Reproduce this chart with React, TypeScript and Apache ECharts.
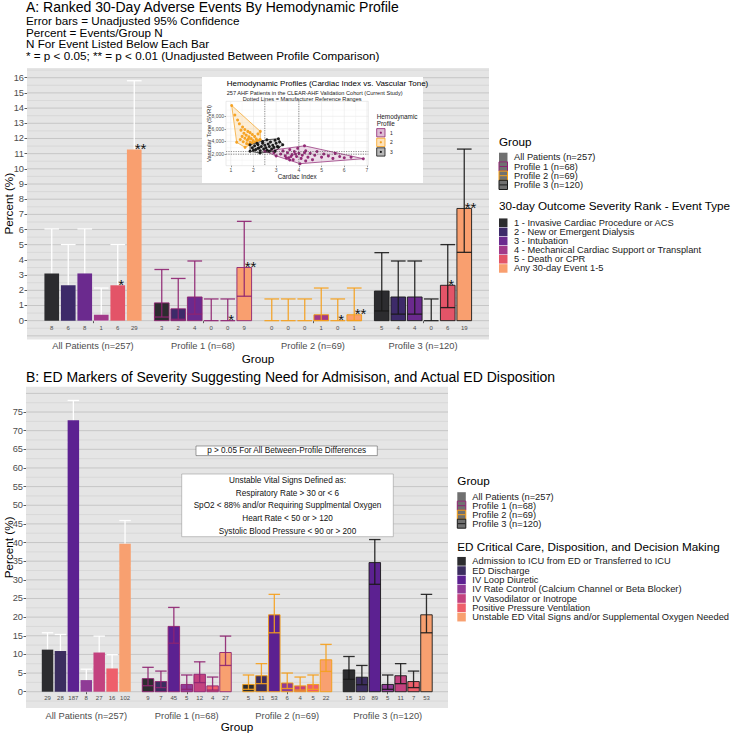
import React, { useEffect, useRef } from "react";
import * as echarts from "echarts";

const FONT = "'Liberation Sans', Arial, Helvetica, sans-serif";

// ---------- Panel A data ----------
const topGroups = ["All Patients (n=257)", "Profile 1 (n=68)", "Profile 2 (n=69)", "Profile 3 (n=120)"];
const topEvents = [
  "1 - Invasive Cardiac Procedure or ACS",
  "2 - New or Emergent Dialysis",
  "3 - Intubation",
  "4 - Mechanical Cardiac Support or Transplant",
  "5 - Death or CPR",
  "Any 30-day Event 1-5",
];
const topCounts = [
  [8, 6, 8, 1, 6, 29],
  [3, 2, 4, 0, 0, 9],
  [0, 0, 0, 1, 0, 1],
  [5, 4, 4, 0, 6, 19],
];
const topPercent = [
  [3.11, 2.33, 3.11, 0.39, 2.33, 11.28],
  [1.17, 0.78, 1.56, 0, 0, 3.5],
  [0, 0, 0, 0.39, 0, 0.39],
  [1.95, 1.56, 1.56, 0, 2.33, 7.39],
];
const topLower = [
  [1.35, 0.86, 1.35, 0.01, 0.86, 7.68],
  [0.24, 0.09, 0.43, 0, 0, 1.61],
  [0, 0, 0, 0.01, 0, 0.01],
  [0.64, 0.43, 0.43, 0, 0.86, 4.5],
];
const topUpper = [
  [6.04, 5.01, 6.04, 2.15, 5.01, 15.8],
  [3.37, 2.78, 3.93, 1.43, 1.43, 6.54],
  [1.43, 1.43, 1.43, 2.15, 1.43, 2.15],
  [4.48, 3.93, 3.93, 1.43, 5.01, 11.3],
];
const topStars = [
  ["", "", "", "", "*", "**"],
  ["", "", "", "", "*", "**"],
  ["", "", "", "", "*", "**"],
  ["", "", "", "", "*", "**"],
];
const topYTicks = [0, 1, 2, 3, 4, 5, 6, 7, 8, 9, 10, 11, 12, 13, 14, 15, 16];

// ---------- Panel B data ----------
const bottomGroups = topGroups;
const bottomEvents = [
  "Admission to ICU from ED or Transferred to ICU",
  "ED Discharge",
  "IV Loop Diuretic",
  "IV Rate Control (Calcium Channel or Beta Blocker)",
  "IV Vasodilator or Inotrope",
  "Positive Pressure Ventilation",
  "Unstable ED Vital Signs and/or Supplemental Oxygen Needed",
];
const bottomCounts = [
  [29, 28, 187, 8, 27, 16, 102],
  [9, 7, 45, 5, 12, 4, 27],
  [5, 11, 53, 6, 4, 5, 22],
  [15, 10, 89, 5, 11, 7, 53],
];
const bottomPercent = [
  [11.28, 10.89, 72.76, 3.11, 10.51, 6.23, 39.69],
  [3.5, 2.72, 17.51, 1.95, 4.67, 1.56, 10.51],
  [1.95, 4.28, 20.62, 2.33, 1.56, 1.95, 8.56],
  [5.84, 3.89, 34.63, 1.95, 4.28, 2.72, 20.62],
];
const bottomLower = [
  [7.68, 7.37, 66.9, 1.35, 7.04, 3.61, 33.7],
  [1.61, 1.1, 13.0, 0.64, 2.44, 0.43, 7.04],
  [0.64, 2.16, 15.8, 0.86, 0.43, 0.64, 5.44],
  [3.31, 1.88, 28.8, 0.64, 2.16, 1.1, 15.8],
];
const bottomUpper = [
  [15.8, 15.35, 78.1, 6.04, 14.91, 9.92, 45.9],
  [6.54, 5.53, 22.6, 4.48, 8.01, 3.93, 14.91],
  [4.48, 7.53, 26.1, 5.01, 3.93, 4.48, 12.69],
  [9.44, 7.04, 40.8, 4.48, 7.53, 5.53, 26.1],
];
const bottomYTicks = [0, 5, 10, 15, 20, 25, 30, 35, 40, 45, 50, 55, 60, 65, 70, 75];
const unstableLines = [
  "Unstable Vital Signs Defined as:",
  "Respiratory Rate > 30 or < 6",
  "SpO2 < 88% and/or Requiring Supplmental Oxygen",
  "Heart Rate < 50 or > 120",
  "Systolic Blood Pressure < 90 or > 200",
];

// ---------- Inset data (Cardiac Index, SVRI) ----------
const insetProfiles = ["1", "2", "3"];
const insetP1 = [
  [2.5, 2450], [4.25, 3300], [6.84, 1250], [4.05, 460], [3.0, 1700], [2.9, 2200], [3.2, 2000],
  [3.3, 2500], [3.4, 1700], [3.5, 2200], [3.55, 1400], [3.6, 2700], [3.7, 1900], [3.75, 1100],
  [3.8, 2400], [3.9, 1600], [3.95, 2900], [4.0, 2100], [4.1, 1300], [4.15, 1800], [4.3, 2500],
  [4.4, 1500], [4.5, 2100], [4.6, 1100], [4.7, 1800], [4.8, 2400], [5.0, 1500], [5.1, 2000],
  [5.3, 1700], [5.5, 1300], [5.6, 2100], [5.8, 1600], [6.0, 1400], [6.3, 1500], [3.6, 1050],
  [4.3, 900], [3.45, 1350], [3.85, 2000], [4.25, 2200], [3.65, 1600],
];
const insetP2 = [
  [1.04, 9730], [1.18, 8200], [1.3, 7400], [1.38, 6800], [1.52, 6300], [1.45, 5800], [1.62, 5900],
  [1.75, 5600], [1.58, 5300], [1.85, 5400], [1.68, 5000], [1.95, 5100], [1.5, 4800], [1.8, 4750],
  [2.05, 4800], [2.2, 5200], [1.62, 4500], [1.9, 4450], [2.12, 4400], [1.42, 4300], [1.72, 4200],
  [1.98, 4150], [2.28, 4300], [1.26, 3860], [1.55, 3950], [1.85, 3900], [2.08, 3950], [1.7, 3650],
  [1.95, 3800], [2.18, 4150], [1.63, 3060], [1.8, 3500], [2.3, 5600], [2.3, 4270], [1.78, 4400],
];
const insetP3 = [
  [1.85, 3480], [2.59, 4270], [3.1, 4430], [3.29, 3480], [2.95, 2430], [2.29, 2160], [1.85, 2430],
  [1.95, 3000], [2.05, 3300], [2.1, 2700], [2.2, 3500], [2.25, 3000], [2.3, 2500], [2.35, 3200],
  [2.4, 3700], [2.45, 2800], [2.5, 3400], [2.55, 3000], [2.6, 2600], [2.65, 3600], [2.7, 3200],
  [2.75, 3900], [2.8, 2800], [2.85, 3400], [2.9, 3050], [3.0, 3700], [3.05, 3200], [3.15, 3900],
  [2.0, 2600], [2.15, 3700], [2.4, 4000], [2.95, 4200], [2.7, 2450], [3.1, 3100], [2.2, 2900],
];
const hullP1 = [[2.5, 2450], [4.25, 3300], [6.84, 1250], [4.05, 460], [3.0, 1700]];
const hullP2 = [[1.04, 9730], [2.3, 5600], [2.3, 4270], [1.63, 3060], [1.26, 3860]];
const hullP3 = [[1.85, 3480], [2.59, 4270], [3.1, 4430], [3.29, 3480], [2.95, 2430], [2.29, 2160], [1.85, 2430]];
const refCI = [2.5, 4.0];
const refSVRI = [1970, 2390];
const insetXTicks = [1, 2, 3, 4, 5, 6, 7];
const insetYTicks = [2000, 4000, 6000, 8000];

// ---------- styles ----------
const topColors = ["#2c2c2f", "#3d2a69", "#6b2a8e", "#a2398a", "#e35468", "#f99f6f"];
const bottomColors = ["#2c2c2f", "#3b2d5f", "#5c2191", "#8f3b96", "#c3427f", "#ee5f6b", "#f8a070"];
const groupStroke = ["none", "#8e2371", "#f39c12", "#1a1a1a"];
const groupErr = ["#ffffff", "#8e2371", "#f5a01d", "#1a1a1a"];
const profileColors = ["#8e2371", "#f5a01d", "#111111"];
const profileFill = ["rgba(142,35,113,0.15)", "rgba(245,160,29,0.18)", "rgba(17,17,17,0.15)"];
const profileKeyFill = ["rgba(142,35,113,0.3)", "rgba(245,160,29,0.3)", "rgba(17,17,17,0.3)"];

function makeBarSeries(
  j: number, k: number, name: string, colors: string[], counts: number[][], pct: number[][],
  lo: number[][], hi: number[][], stars: string[][] | null, axisIdx: number, nOffset: number
) {
  const data = pct.map((row, gi) => [gi + 1, row[j], lo[gi][j], hi[gi][j]]);
  return {
    type: "custom",
    name,
    xAxisIndex: axisIdx,
    yAxisIndex: axisIdx,
    z: 3,
    silent: true,
    encode: { x: 0, y: 1 },
    data,
    renderItem: (params: any, api: any) => {
      const gi = params.dataIndex;
      const g = api.value(0), v = api.value(1), l = api.value(2), h = api.value(3);
      const xc = g + (j - (k - 1) / 2) * (0.9 / k);
      const base = api.coord([xc, 0]);
      const top = api.coord([xc, v]);
      const pl = api.coord([xc, l]);
      const ph = api.coord([xc, h]);
      const bw = api.size([0.8 / k, 0])[0];
      const cx = base[0];
      const x0 = cx - bw / 2, x1 = cx + bw / 2;
      const es = { stroke: groupErr[gi], lineWidth: 1.3, opacity: gi === 0 ? 1 : 0.9 };
      const err = [
        { type: "line", shape: { x1: cx, y1: pl[1], x2: cx, y2: ph[1] }, style: es },
        { type: "line", shape: { x1: x0, y1: ph[1], x2: x1, y2: ph[1] }, style: es },
        { type: "line", shape: { x1: x0, y1: pl[1], x2: x1, y2: pl[1] }, style: es },
      ];
      const bars: any[] = v > 0 ? [{
        type: "rect",
        shape: { x: x0, y: top[1], width: bw, height: base[1] - top[1] },
        style: { fill: colors[j], stroke: groupStroke[gi], lineWidth: gi === 0 ? 0 : 0.9 },
      }] : [];
      const texts: any[] = [{
        type: "text", x: cx, y: base[1] + nOffset,
        style: { text: String(counts[gi][j]), fontSize: 6, fontFamily: FONT, fill: "#4d4d4d",
          align: "center", verticalAlign: "middle", textAlign: "center", textVerticalAlign: "middle" },
      }];
      const s = stars ? stars[gi][j] : "";
      if (s) {
        texts.push({
          type: "text", x: cx + 0.5, y: top[1] - 1,
          style: { text: s, fontSize: 15, fontFamily: FONT, fill: "#111",
            align: "left", verticalAlign: "middle", textAlign: "left", textVerticalAlign: "middle" },
        });
      }
      const children = gi === 0 ? [...err, ...bars, ...texts] : [...bars, ...err, ...texts];
      return { type: "group", children };
    },
  };
}

function gridLineSeries(axisIdx: number, hMajor: number[], hMinor: number[], vMajor: number[], vMinor: number[],
  majorColor: string, minorColor: string, majorW: number, minorW: number, z: number) {
  const data = [
    ...hMajor.map((v) => [0, v, 0, 1]),
    ...hMinor.map((v) => [0, v, 0, 0]),
    ...vMajor.map((v) => [v, 0, 1, 1]),
    ...vMinor.map((v) => [v, 0, 1, 0]),
  ];
  return {
    type: "custom", xAxisIndex: axisIdx, yAxisIndex: axisIdx, z, silent: true,
    encode: { x: 0, y: 1 }, data,
    renderItem: (params: any, api: any) => {
      const cs = params.coordSys;
      const dir = api.value(2);
      const major = api.value(3) === 1;
      const p = api.coord([api.value(0), api.value(1)]);
      const style = { stroke: major ? majorColor : minorColor, lineWidth: major ? majorW : minorW };
      if (dir === 0) {
        return { type: "line", shape: { x1: cs.x, y1: p[1], x2: cs.x + cs.width, y2: p[1] }, style };
      }
      return { type: "line", shape: { x1: p[0], y1: cs.y, x2: p[0], y2: cs.y + cs.height }, style };
    },
  };
}

function refLineSeries() {
  const data = [...refCI.map((v) => [v, 0, 1]), ...refSVRI.map((v) => [0, v, 0])];
  return {
    type: "custom", xAxisIndex: 2, yAxisIndex: 2, z: 10, silent: true, encode: { x: 0, y: 1 }, data,
    renderItem: (params: any, api: any) => {
      const cs = params.coordSys;
      const p = api.coord([api.value(0), api.value(1)]);
      const style = { stroke: "#444", lineWidth: 0.6, lineDash: [1.2, 1.2] };
      if (api.value(2) === 0) {
        return { type: "line", shape: { x1: cs.x, y1: p[1], x2: cs.x + cs.width, y2: p[1] }, style };
      }
      return { type: "line", shape: { x1: p[0], y1: cs.y, x2: p[0], y2: cs.y + cs.height }, style };
    },
  };
}

function hullSeries(hull: number[][], idx: number) {
  return {
    type: "custom", xAxisIndex: 2, yAxisIndex: 2, z: 8, silent: true, encode: { x: 0, y: 1 }, data: hull,
    renderItem: (params: any, api: any) => {
      if (params.dataIndex !== 0) return { type: "group", children: [] };
      const pts = hull.map((p) => api.coord(p));
      return { type: "polygon", shape: { points: pts }, style: { fill: profileFill[idx], stroke: profileColors[idx], lineWidth: 0.7 } };
    },
  };
}

function T(text: string, x: number, y: number, size: number, o: any = {}) {
  const align = o.align || "left";
  return {
    type: "text", x, y, z: o.z ?? 20, silent: true,
    style: { text, fontSize: size, fontFamily: FONT, fill: o.fill || "#000", fontWeight: o.weight || "normal",
      align, verticalAlign: "middle", textAlign: align, textVerticalAlign: "middle" },
  };
}
function R(x: number, y: number, w: number, h: number, fill: string, stroke: string, lw: number, z = 20) {
  return { type: "rect", z, silent: true, shape: { x, y, width: w, height: h }, style: { fill, stroke, lineWidth: lw } };
}

function groupLegend(x: number, textX: number, y0: number, step: number, labels: string[]) {
  const els: any[] = [];
  labels.forEach((lab, i) => {
    const c = y0 + i * step;
    els.push(R(x, c - step / 2, 8.5, step, "#707070", i === 0 ? "none" : groupStroke[i], i === 0 ? 0 : 1));
    if (i > 0) {
      els.push({ type: "line", z: 21, silent: true, shape: { x1: x + 0.5, y1: c, x2: x + 8, y2: c },
        style: { stroke: groupErr[i], lineWidth: 1 } });
    }
    els.push(T(lab, textX, c, 9.3, { fill: "#1a1a1a" }));
  });
  return els;
}
function colorLegend(x: number, textX: number, y0: number, step: number, labels: string[], colors: string[]) {
  const els: any[] = [];
  labels.forEach((lab, i) => {
    const c = y0 + i * step;
    els.push(R(x, c - step / 2 + 0.3, 8.5, step - 0.6, colors[i], "none", 0));
    els.push(T(lab, textX, c, 9.3, { fill: "#1a1a1a" }));
  });
  return els;
}

function buildOption() {
  const axisLabelBase = { fontSize: 9.3, color: "#4d4d4d", fontFamily: FONT };
  const tickBase = { lineStyle: { color: "#333", width: 0.8 }, length: 2.5 };
  const nameStyle = { fontSize: 11.7, color: "#000", fontFamily: FONT };

  const xAxis: any[] = [
    {
      gridIndex: 0, type: "value", min: 0.4, max: 4.6, axisLine: { show: false }, splitLine: { show: false },
      axisTick: { show: true, customValues: [1, 2, 3, 4], ...tickBase },
      axisLabel: { ...axisLabelBase, customValues: [1, 2, 3, 4], margin: 2, formatter: (v: number) => topGroups[Math.round(v) - 1] || "" },
      name: "Group", nameLocation: "middle", nameGap: 12.7, nameMoveOverlap: false, nameTextStyle: nameStyle,
    },
    {
      gridIndex: 1, type: "value", min: 0.4, max: 4.6, axisLine: { show: false }, splitLine: { show: false },
      axisTick: { show: true, customValues: [1, 2, 3, 4], ...tickBase },
      axisLabel: { ...axisLabelBase, customValues: [1, 2, 3, 4], margin: 3, formatter: (v: number) => bottomGroups[Math.round(v) - 1] || "" },
      name: "Group", nameLocation: "middle", nameGap: 12.2, nameMoveOverlap: false, nameTextStyle: nameStyle,
    },
    {
      gridIndex: 2, type: "value", min: 0.79, max: 7.06, z: 11, axisLine: { show: false }, splitLine: { show: false },
      axisTick: { show: true, customValues: insetXTicks, length: 1.5, lineStyle: { color: "#333", width: 0.5 } },
      axisLabel: { customValues: insetXTicks, fontSize: 5, color: "#4d4d4d", margin: 2, fontFamily: FONT },
      name: "Cardiac Index", nameLocation: "middle", nameGap: 8, nameMoveOverlap: false,
      nameTextStyle: { fontSize: 6.3, color: "#222", fontFamily: FONT },
    },
  ];
  const yAxis: any[] = [
    {
      gridIndex: 0, type: "value", min: -1.24, max: 16.64, axisLine: { show: false }, splitLine: { show: false },
      axisTick: { show: true, customValues: topYTicks, ...tickBase },
      axisLabel: { ...axisLabelBase, customValues: topYTicks, margin: 3 },
      name: "Percent (%)", nameLocation: "middle", nameGap: 13, nameRotate: 90, nameMoveOverlap: false, nameTextStyle: nameStyle,
    },
    {
      gridIndex: 1, type: "value", min: -4.37, max: 81.79, axisLine: { show: false }, splitLine: { show: false },
      axisTick: { show: true, customValues: bottomYTicks, ...tickBase },
      axisLabel: { ...axisLabelBase, customValues: bottomYTicks, margin: 3 },
      name: "Percent (%)", nameLocation: "middle", nameGap: 12, nameRotate: 90, nameMoveOverlap: false, nameTextStyle: nameStyle,
    },
    {
      gridIndex: 2, type: "value", min: 138, max: 10388, z: 11, axisLine: { show: false }, splitLine: { show: false },
      axisTick: { show: true, customValues: insetYTicks, length: 1.5, lineStyle: { color: "#333", width: 0.5 } },
      axisLabel: { customValues: insetYTicks, fontSize: 5, color: "#4d4d4d", margin: 2, fontFamily: FONT },
      name: "Vascular Tone (SVRI)", nameLocation: "middle", nameGap: 14, nameRotate: 90, nameMoveOverlap: false,
      nameTextStyle: { fontSize: 6, color: "#222", fontFamily: FONT },
    },
  ];

  const topMajor = [-1, ...topYTicks];
  const topMinor = topMajor.map((v) => v + 0.5);
  const botMajor = [...bottomYTicks, 80];
  const botMinor = [-2.5, ...bottomYTicks.map((v) => v + 2.5)];
  const insMinorX = insetXTicks.slice(0, -1).map((v) => v + 0.5);
  const insMinorY = [1000, 3000, 5000, 7000, 9000];

  const series: any[] = [
    gridLineSeries(0, topMajor, topMinor, [], [], "#c6c6c6", "#d3d3d3", 1, 0.7, 1),
    gridLineSeries(1, botMajor, botMinor, [], [], "#c6c6c6", "#d3d3d3", 1, 0.7, 1),
    ...topEvents.map((name, j) => makeBarSeries(j, 6, name, topColors, topCounts, topPercent, topLower, topUpper, topStars, 0, 7)),
    ...bottomEvents.map((name, j) => makeBarSeries(j, 7, name, bottomColors, bottomCounts, bottomPercent, bottomLower, bottomUpper, null, 1, 6)),
    gridLineSeries(2, insetYTicks, insMinorY, insetXTicks, insMinorX, "#e3e3e3", "#f1f1f1", 0.5, 0.4, 7),
    hullSeries(hullP1, 0), hullSeries(hullP2, 1), hullSeries(hullP3, 2),
    ...[insetP1, insetP2, insetP3].map((pts, i) => ({
      type: "scatter", name: "Profile " + insetProfiles[i], xAxisIndex: 2, yAxisIndex: 2, z: 9, silent: true,
      symbolSize: 3, data: pts, itemStyle: { color: profileColors[i], opacity: 0.95 },
    })),
    refLineSeries(),
  ];

  const elements: any[] = [
    T("A: Ranked 30-Day Adverse Events By Hemodynamic Profile", 26, 6.5, 14),
    T("Error bars = Unadjusted 95% Confidence", 26, 20.7, 11.7),
    T("Percent = Events/Group N", 26, 32.2, 11.7),
    T("N For Event Listed Below Each Bar", 26, 43.7, 11.7),
    T("* = p < 0.05; ** = p < 0.01 (Unadjusted Between Profile Comparison)", 26, 55.2, 11.7),
    T("B: ED Markers of Severity Suggesting Need for Admisison, and Actual ED Disposition", 26, 376.7, 14),
    // inset
    R(202, 77, 221, 106, "#ffffff", "none", 0, 5),
    T("Hemodynamic Profiles (Cardiac Index vs. Vascular Tone)", 226.7, 83.5, 8),
    T("257 AHF Patients in the CLEAR-AHF Validation Cohort (Current Study)", 226.7, 93.3, 5.6, { fill: "#222" }),
    T("Dotted Lines = Manufacturer Reference Ranges", 242.7, 98.7, 5.6, { fill: "#222" }),
    T("Hemodynamic", 376.7, 116, 6.4, { fill: "#222" }),
    T("Profile", 376.7, 123.3, 6.4, { fill: "#222" }),
    // legends
    T("Group", 499, 141.7, 11.7),
    ...groupLegend(499, 514, 157.3, 9.2, topGroups),
    T("30-day Outcome Severity Rank - Event Type", 499, 205.7, 11.7),
    ...colorLegend(499, 514, 222.7, 9.15, topEvents, topColors),
    T("Group", 457.3, 480.7, 11.7),
    ...groupLegend(457.3, 472.3, 496.7, 9.0, bottomGroups),
    T("ED Critical Care, Disposition, and Decision Making", 457.3, 546, 11.7),
    ...colorLegend(457.3, 472.3, 561.3, 9.3, bottomEvents, bottomColors),
    // annotations panel B
    R(196, 446, 181.3, 9.6, "#ffffff", "#444", 0.5),
    T("p > 0.05 For All Between-Profile Differences", 286.6, 450.9, 8.2, { align: "center", fill: "#111" }),
    R(181.7, 474, 211.6, 62.7, "#ffffff", "#9a9a9a", 0.6),
    ...unstableLines.map((s, i) => T(s, 287.5, 480.7 + i * 12.6, 8.2, { align: "center", fill: "#111" })),
  ];
  insetProfiles.forEach((p, i) => {
    const c = 132.7 + i * 9.6;
    elements.push(R(376.7, c - 4.1, 8.3, 8.3, profileKeyFill[i], profileColors[i], 0.8, 21));
    elements.push({ type: "circle", z: 22, silent: true, shape: { cx: 380.85, cy: c, r: 1.1 }, style: { fill: profileColors[i] } });
    elements.push(T(p, 390, c, 5, { fill: "#222" }));
  });

  return {
    animation: false,
    textStyle: { fontFamily: FONT },
    grid: [
      { left: 27, top: 68, width: 462, height: 271.5, show: true, backgroundColor: "#e5e5e5", borderWidth: 0, outerBoundsMode: "none" },
      { left: 26, top: 386.7, width: 422, height: 321.3, show: true, backgroundColor: "#e5e5e5", borderWidth: 0, outerBoundsMode: "none" },
      { left: 226, top: 101.3, width: 142.3, height: 64.4, show: true, backgroundColor: "#ffffff", borderColor: "#d6d6d6", borderWidth: 0.5, z: 6, outerBoundsMode: "none" },
    ],
    xAxis,
    yAxis,
    series,
    graphic: { elements },
  };
}

export default function App() {
  const ref = useRef<HTMLDivElement>(null);
  useEffect(() => {
    if (!ref.current) return;
    const chart = echarts.init(ref.current, null, { renderer: "svg" });
    chart.setOption(buildOption() as any);
    return () => chart.dispose();
  }, []);
  return (
    <div
      ref={ref}
      style={{ position: "fixed", left: 0, top: 0, width: 731, height: 734, background: "#ffffff" }}
    />
  );
}
